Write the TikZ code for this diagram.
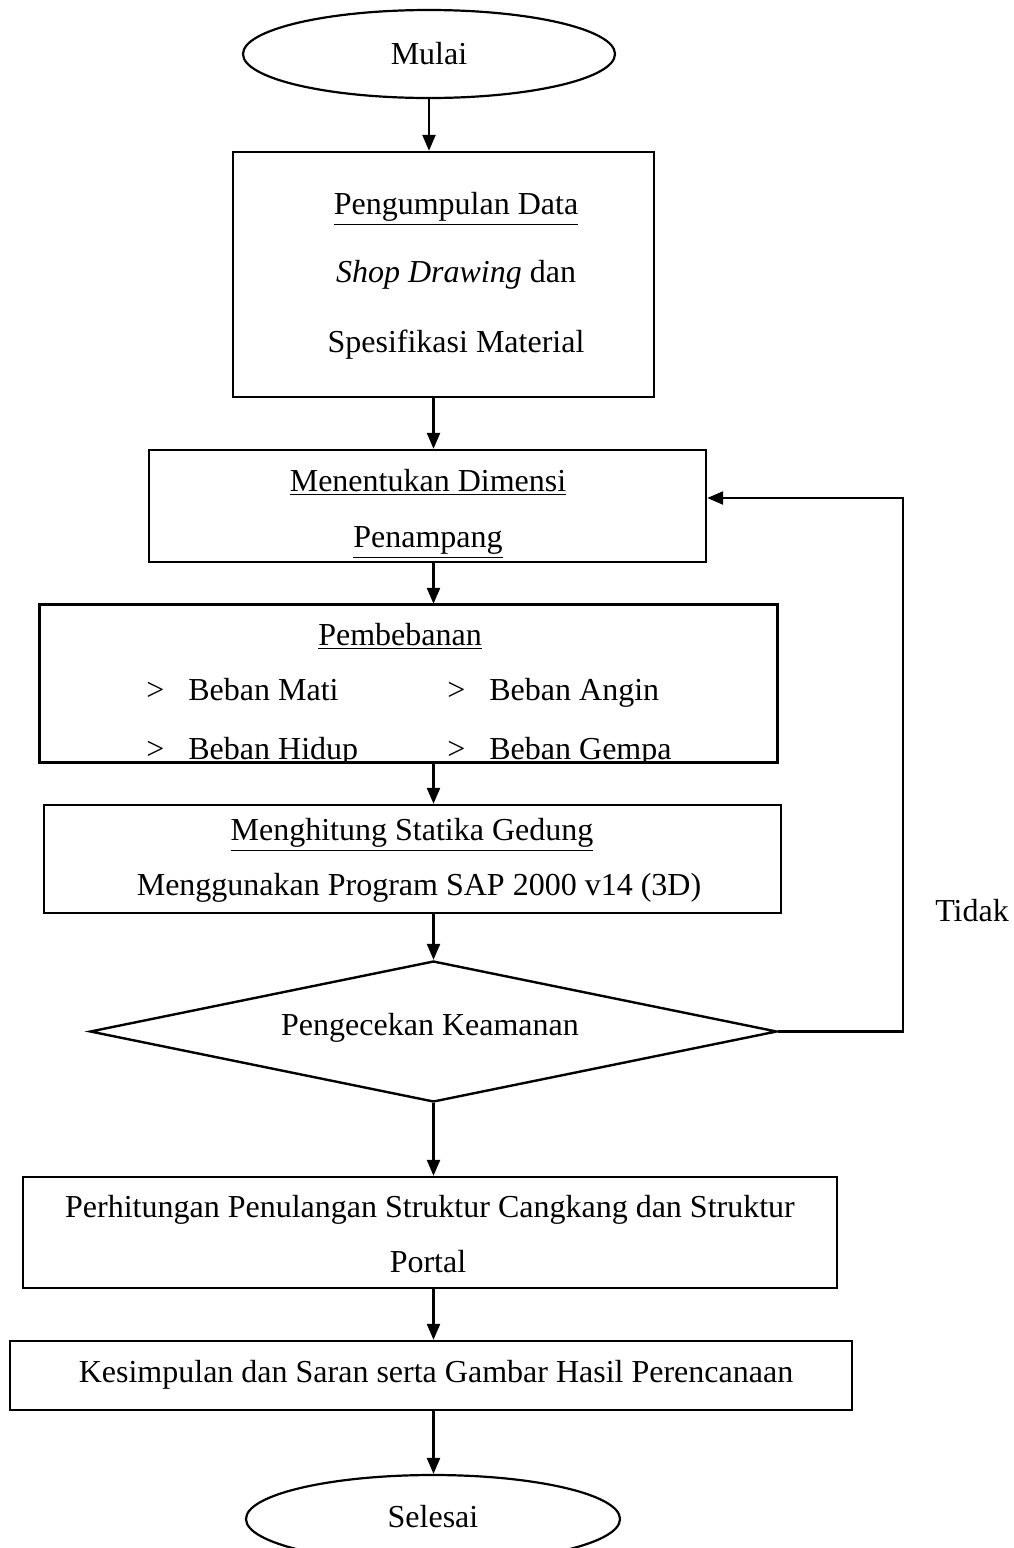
\documentclass[tikz,border=0pt]{standalone}
\usepackage{fontspec}
\setmainfont{Liberation Serif}
\usetikzlibrary{shapes.geometric,arrows.meta}

\tikzset{
    box/.style={draw, line width=1.2pt, inner sep=0pt},
    term/.style={draw, ellipse, line width=1.1pt, inner sep=0pt},
    txt/.style={inner sep=0pt, text height=11pt, text depth=3.5pt,
        font=\fontsize{16}{19}\selectfont},
    arr/.style={line width=1.2pt, -{Triangle[length=8pt, width=6.5pt]}}
}

\begin{document}
\begin{tikzpicture}[x=0.5pt, y=-0.5pt]
    \useasboundingbox (0,0) rectangle (1013,1548);

    \node [term, minimum width=186pt, minimum height=44pt] (start) at (429,54) {};
    \node [txt] (tstart) at (429,57) {Mulai};

    \node [box, minimum width=210.5pt, minimum height=122.5pt] (data) at (443.5,274.5) {};
    \node [txt] (tdata1) at (456,207) {\underline{Pengumpulan Data}};
    \node [txt] (tdata2) at (456,275) {\textit{Shop Drawing} dan};
    \node [txt] (tdata3) at (456,345) {Spesifikasi Material};

    \node [box, minimum width=278.5pt, minimum height=56pt] (dimensi) at (427.5,506) {};
    \node [txt] (tdim1) at (428,484) {\underline{Menentukan Dimensi}};
    \node [txt] (tdim2) at (428,540) {\underline{Penampang}};

    \node [box, minimum width=368.5pt, minimum height=78.5pt] (beban) at (408.5,683.5) {};
    \node [txt] (tbeban) at (400,638) {\underline{Pembebanan}};
    \begin{scope}
        \clip (beban.south west) rectangle (beban.north east);
        \node [txt, anchor=west] (g1) at (146,693) {>};
        \node [txt, anchor=west] (mati) at (188,693) {Beban Mati};
        \node [txt, anchor=west] (g2) at (447,693) {>};
        \node [txt, anchor=west] (angin) at (489,693) {Beban Angin};
        \node [txt, anchor=west] (g3) at (146,752) {>};
        \node [txt, anchor=west] (hidup) at (188,752) {Beban Hidup};
        \node [txt, anchor=west] (g4) at (447,752) {>};
        \node [txt, anchor=west] (gempa) at (489,752) {Beban Gempa};
    \end{scope}
    \draw [line width=1.2pt] (beban.south west) rectangle (beban.north east);

    \node [box, minimum width=368.5pt, minimum height=54pt] (statika) at (412.5,859) {};
    \node [txt] (tstat1) at (412,833) {\underline{Menghitung Statika Gedung}};
    \node [txt] (tstat2) at (419,888) {Menggunakan Program SAP 2000 v14 (3D)};

    \node [box, diamond, minimum width=343.5pt, minimum height=70.5pt] (cek) at (433.5,1031.5) {};
    \node [txt] (tcek) at (430,1028) {Pengecekan Keamanan};

    \node [txt] (tidak) at (972,914) {Tidak};

    \node [box, minimum width=407pt, minimum height=55.5pt] (tulangan) at (430,1232.5) {};
    \node [txt] (ttul1) at (430,1210) {Perhitungan Penulangan Struktur Cangkang dan Struktur};
    \node [txt] (ttul2) at (428,1265) {Portal};

    \node [box, minimum width=421pt, minimum height=34.5pt] (simpul) at (431,1375.5) {};
    \node [txt] (tsimpul) at (436,1375) {Kesimpulan dan Saran serta Gambar Hasil Perencanaan};

    \node [term, minimum width=187pt, minimum height=44pt] (stop) at (433,1519) {};
    \node [txt] (tstop) at (433,1520) {Selesai};

    \draw [arr] (start.south) -- (start.south |- data.north);
    \draw [arr] (data.south -| cek) -- (dimensi.north -| cek);
    \draw [arr] (dimensi.south -| cek) -- (beban.north -| cek);
    \draw [arr] (beban.south -| cek) -- (statika.north -| cek);
    \draw [arr] (statika.south -| cek) -- (cek.north);
    \draw [arr] (cek.south) -- (tulangan.north -| cek);
    \draw [arr] (tulangan.south -| cek) -- (simpul.north -| cek);
    \draw [arr] (simpul.south -| cek) -- (stop.north -| cek);

    \draw [arr] (cek.east) -- ++(125,0) coordinate (balik)
        |- ([yshift=4pt]dimensi.east);

\end{tikzpicture}
\end{document}
